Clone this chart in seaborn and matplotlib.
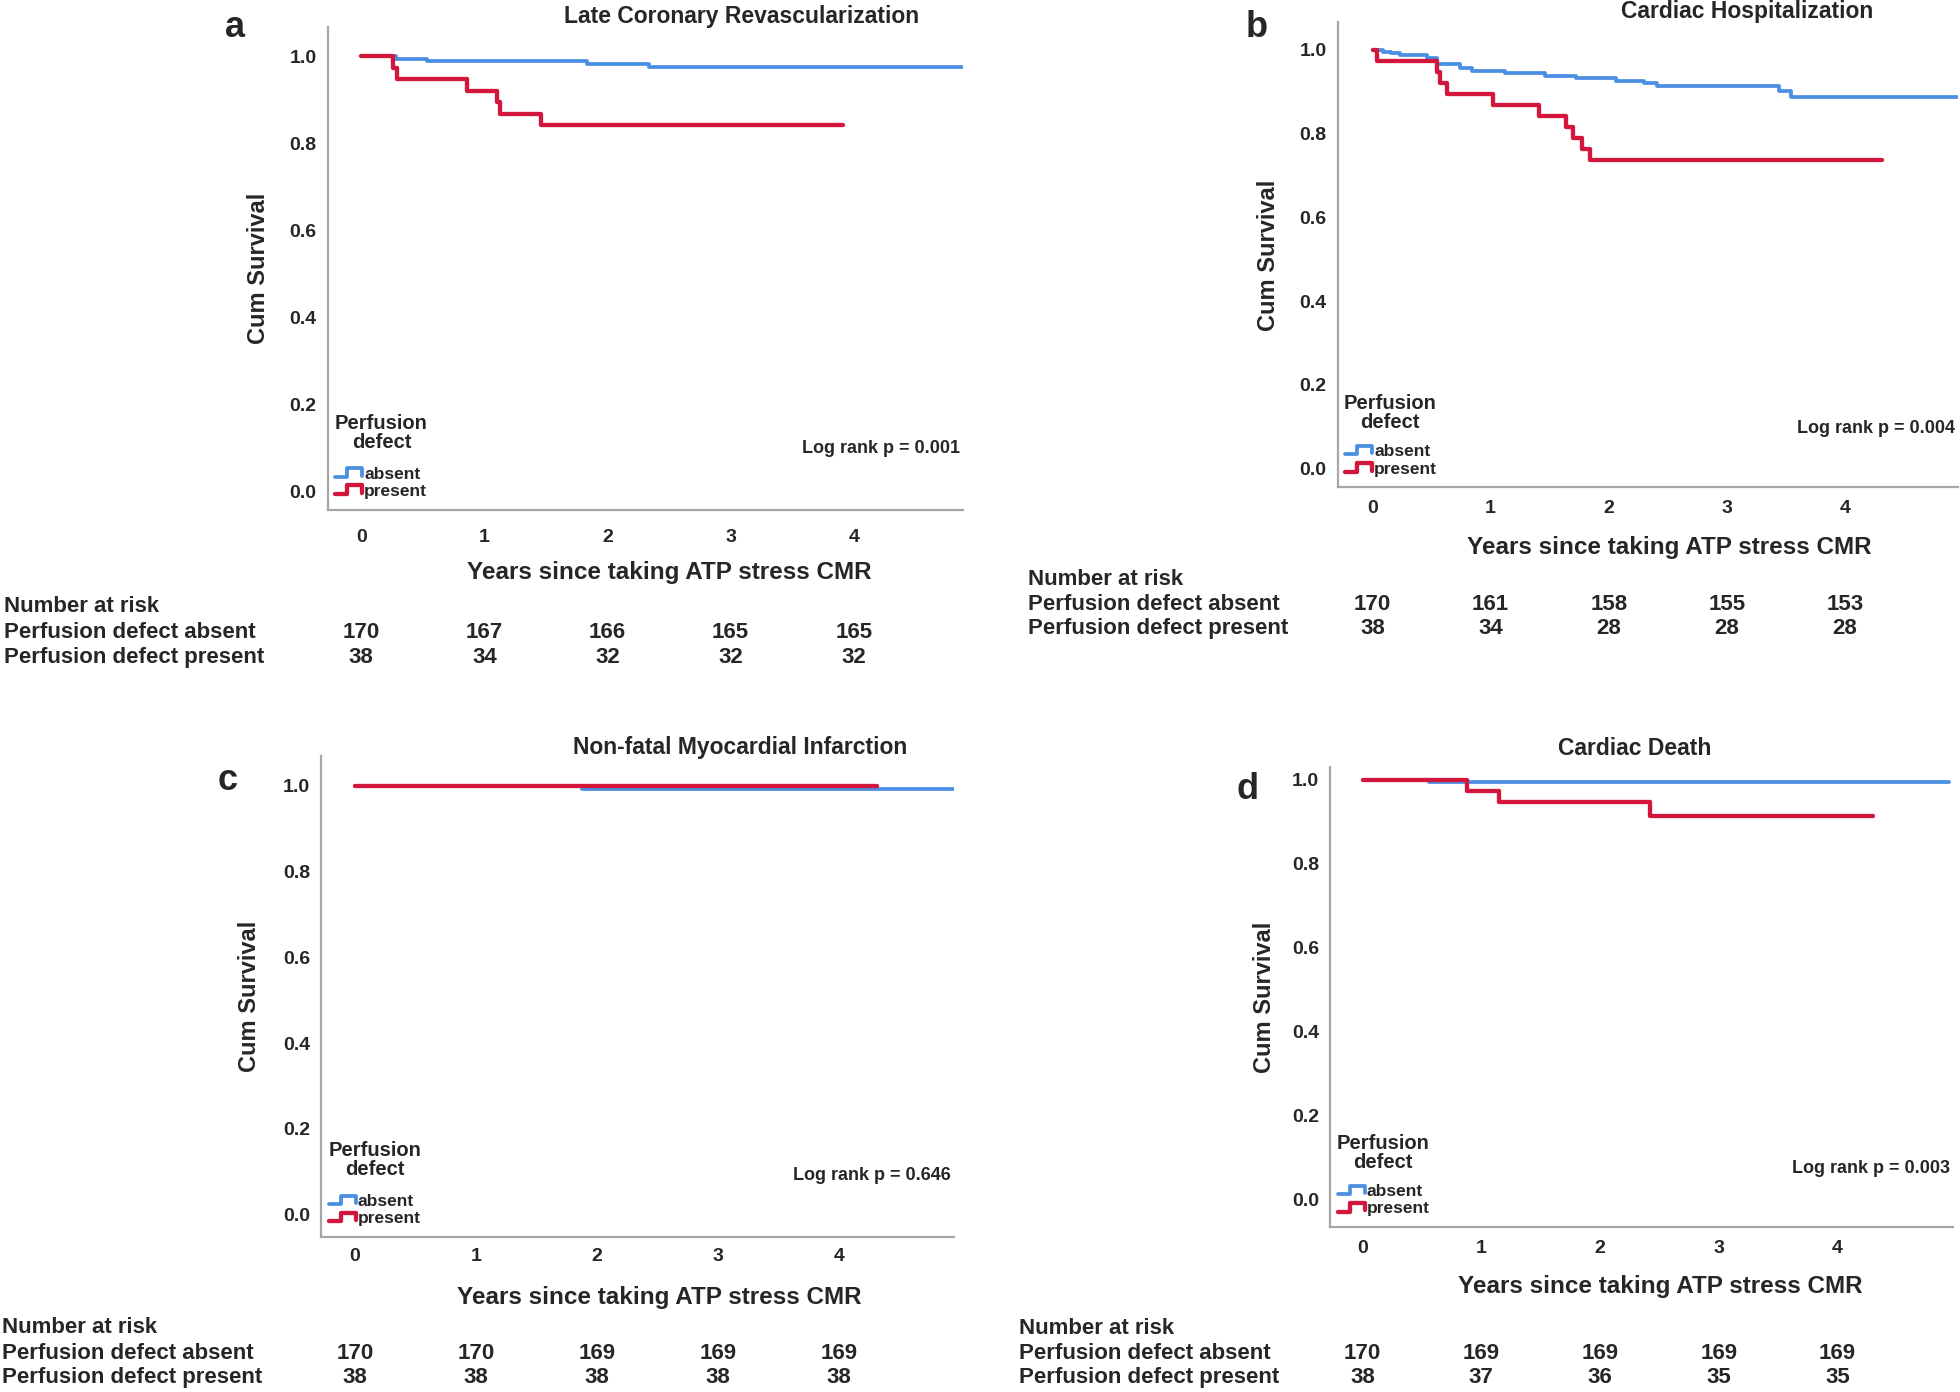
import matplotlib
matplotlib.use("Agg")
import pandas as pd
import seaborn as sns
import matplotlib.pyplot as plt
import matplotlib.transforms as mtransforms
from matplotlib.lines import Line2D
from matplotlib.legend_handler import HandlerBase

# ---- data ----
# Late Coronary Revascularization
a_abs_t = [0, 0.28, 0.53, 1.83, 2.34, 4.88]
a_abs_s = [1.0, 0.994, 0.988, 0.982, 0.976, 0.976]
a_pre_t = [0, 0.26, 0.29, 0.86, 1.10, 1.13, 1.46, 3.91]
a_pre_s = [1.0, 0.974, 0.947, 0.921, 0.895, 0.868, 0.842, 0.842]
a_abs_n = [170, 167, 166, 165, 165]
a_pre_n = [38, 34, 32, 32, 32]

# Cardiac Hospitalization
b_abs_t = [0, 0.09, 0.16, 0.23, 0.46, 0.55, 0.74, 0.84, 1.12, 1.46, 1.72, 2.06, 2.30, 2.41, 3.44, 3.54, 4.95]
b_abs_s = [1.0, 0.996, 0.992, 0.988, 0.980, 0.966, 0.958, 0.950, 0.944, 0.938, 0.932, 0.926, 0.920, 0.913, 0.902, 0.888, 0.888]
b_pre_t = [0, 0.04, 0.55, 0.57, 0.63, 1.02, 1.41, 1.64, 1.70, 1.77, 1.84, 4.31]
b_pre_s = [1.0, 0.974, 0.947, 0.921, 0.895, 0.868, 0.842, 0.816, 0.789, 0.763, 0.737, 0.737]
b_abs_n = [170, 161, 158, 155, 153]
b_pre_n = [38, 34, 28, 28, 28]

# Non-fatal Myocardial Infarction
c_abs_t = [0, 1.88, 4.95]
c_abs_s = [1.0, 0.994, 0.994]
c_pre_t = [0, 4.32]
c_pre_s = [1.0, 1.0]
c_abs_n = [170, 170, 169, 169, 169]
c_pre_n = [38, 38, 38, 38, 38]

# Cardiac Death
d_abs_t = [0, 0.56, 4.94]
d_abs_s = [1.0, 0.994, 0.994]
d_pre_t = [0, 0.88, 1.15, 2.42, 4.30]
d_pre_s = [1.0, 0.974, 0.947, 0.914, 0.914]
d_abs_n = [170, 169, 169, 169, 169]
d_pre_n = [38, 37, 36, 35, 35]

titles = ["Late Coronary Revascularization", "Cardiac Hospitalization",
          "Non-fatal Myocardial Infarction", "Cardiac Death"]
p_values = ["0.001", "0.004", "0.646", "0.003"]
letters = ["a", "b", "c", "d"]
year_ticks = [0, 1, 2, 3, 4]
surv_ticks = [0.0, 0.2, 0.4, 0.6, 0.8, 1.0]

BLUE = "#4A8FE2"
RED = "#D3163C"

sns.set_style("white")
plt.rcParams["font.family"] = ["Liberation Sans", "DejaVu Sans"]
plt.rcParams["font.weight"] = "bold"
plt.rcParams["axes.labelweight"] = "bold"


class StepHandler(HandlerBase):
    # SPSS style little step icon in the legend
    def create_artists(self, legend, orig_handle, xdescent, ydescent,
                       width, height, fontsize, trans):
        x0, y0 = -xdescent, -ydescent
        xs = [x0, x0 + 0.45 * width, x0 + 0.45 * width, x0 + width, x0 + width]
        ys = [y0 + 0.15 * height, y0 + 0.15 * height, y0 + 0.85 * height,
              y0 + 0.85 * height, y0 + 0.25 * height]
        line = Line2D(xs, ys, color=orig_handle.get_color(),
                      linewidth=orig_handle.get_linewidth(), transform=trans)
        return [line]


# layout measured on a 1568 x 1114 grid of the reference
W, H = 1568, 1114
layout = [
    dict(box=(262, 22, 770, 408), x0=289, yr=98.5, y1=45, y0=393, title=(593, 13),
         letter=(188, 22), ylab=207, xlab=(535, 458), xpad=14,
         risk_x=3, risk_y=(485, 506, 526)),
    dict(box=(1070, 18, 1566, 390), x0=1098, yr=94.5, y1=40, y0=375, title=(1398, 9),
         letter=(1005, 22), ylab=1015, xlab=(1335, 438), xpad=9,
         risk_x=822, risk_y=(464, 484, 503)),
    dict(box=(257, 605, 763, 990), x0=284, yr=96.75, y1=629, y0=972, title=(592, 598),
         letter=(182, 625), ylab=200, xlab=(527, 1038), xpad=8,
         risk_x=2, risk_y=(1062, 1083, 1102)),
    dict(box=(1064, 614, 1562, 982), x0=1090, yr=95, y1=624, y0=960, title=(1308, 599),
         letter=(998, 632), ylab=1012, xlab=(1328, 1029), xpad=9,
         risk_x=815, risk_y=(1063, 1083, 1102)),
]

panels = [
    (a_abs_t, a_abs_s, a_pre_t, a_pre_s, a_abs_n, a_pre_n),
    (b_abs_t, b_abs_s, b_pre_t, b_pre_s, b_abs_n, b_pre_n),
    (c_abs_t, c_abs_s, c_pre_t, c_pre_s, c_abs_n, c_pre_n),
    (d_abs_t, d_abs_s, d_pre_t, d_pre_s, d_abs_n, d_pre_n),
]

fig = plt.figure(figsize=(19.6, 13.92), dpi=100)


def fx(x):
    return x / W


def fy(y):
    return 1 - y / H


RISK_FS = 16

for i, (abs_t, abs_s, pre_t, pre_s, abs_n, pre_n) in enumerate(panels):
    L = layout[i]
    l, t, r, b = L["box"]
    ax = fig.add_axes([fx(l), fy(b), (r - l) / W, (b - t) / H])

    # curves, absent first so present sits on top
    curve_abs = pd.DataFrame({"time": abs_t, "surv": abs_s})
    curve_pre = pd.DataFrame({"time": pre_t, "surv": pre_s})
    sns.lineplot(data=curve_abs, x="time", y="surv", ax=ax, color=BLUE,
                 linewidth=2.7, drawstyle="steps-post", estimator=None, sort=False)
    sns.lineplot(data=curve_pre, x="time", y="surv", ax=ax, color=RED,
                 linewidth=3.1, drawstyle="steps-post", estimator=None, sort=False)

    unit = L["y0"] - L["y1"]
    ax.set_xlim((l - L["x0"]) / L["yr"], (r - L["x0"]) / L["yr"])
    ax.set_ylim(-(b - L["y0"]) / unit, 1 + (L["y1"] - t) / unit)
    ax.set_xticks(year_ticks)
    ax.set_yticks(surv_ticks)
    ax.set_yticklabels([f"{v:.1f}" for v in surv_ticks])
    ax.tick_params(axis="both", length=0, labelsize=14)
    ax.tick_params(axis="x", pad=L["xpad"])
    ax.tick_params(axis="y", pad=8)

    for side in ["top", "right"]:
        ax.spines[side].set_visible(False)
    for side in ["left", "bottom"]:
        ax.spines[side].set_color("#A6A6A6")
        ax.spines[side].set_linewidth(1.6)

    ax.set_ylabel("Cum Survival", fontsize=17)
    ax.yaxis.set_label_coords((L["ylab"] + 9 - l) / (r - l), 0.5)
    ax.set_xlabel("Years since taking ATP stress CMR", fontsize=17.5)
    xl, yl = L["xlab"]
    ax.xaxis.set_label_coords((xl - l) / (r - l), (b - (yl - 9)) / (b - t))

    # legend entries; the group title is set as its own text above them
    handles = [Line2D([], [], color=BLUE, linewidth=2.7),
               Line2D([], [], color=RED, linewidth=3.1)]
    ax.legend(handles, ["absent", "present"], loc="lower left",
              bbox_to_anchor=(0.004, 0.012), frameon=False,
              handler_map={Line2D: StepHandler()}, fontsize=12.5,
              handlelength=1.55, handletextpad=0.12, labelspacing=0.12,
              borderpad=0.1, borderaxespad=0.2)
    ax.text(0.085, 0.16, "Perfusion\ndefect", transform=ax.transAxes,
            ha="center", va="center", multialignment="center",
            fontsize=14.5, linespacing=1.0)

    ax.text(0.996, 0.127, f"Log rank p = {p_values[i]}", transform=ax.transAxes,
            ha="right", va="center", fontsize=13)

    tx, ty = L["title"]
    fig.text(fx(tx), fy(ty), titles[i], ha="center", va="center", fontsize=16.5)
    lx, ly = L["letter"]
    fig.text(fx(lx), fy(ly), letters[i], ha="center", va="center", fontsize=26)

    # number at risk table under each panel
    y_head, y_abs, y_pre = L["risk_y"]
    fig.text(fx(L["risk_x"]), fy(y_head), "Number at risk", ha="left", va="center", fontsize=RISK_FS)
    fig.text(fx(L["risk_x"]), fy(y_abs), "Perfusion defect absent", ha="left", va="center", fontsize=RISK_FS)
    fig.text(fx(L["risk_x"]), fy(y_pre), "Perfusion defect present", ha="left", va="center", fontsize=RISK_FS)
    blend = mtransforms.blended_transform_factory(ax.transData, fig.transFigure)
    for k, yr in enumerate(year_ticks):
        ax.text(yr, fy(y_abs), str(abs_n[k]), transform=blend, ha="center", va="center", fontsize=RISK_FS)
        ax.text(yr, fy(y_pre), str(pre_n[k]), transform=blend, ha="center", va="center", fontsize=RISK_FS)

fig.savefig("out.png", dpi=100)
